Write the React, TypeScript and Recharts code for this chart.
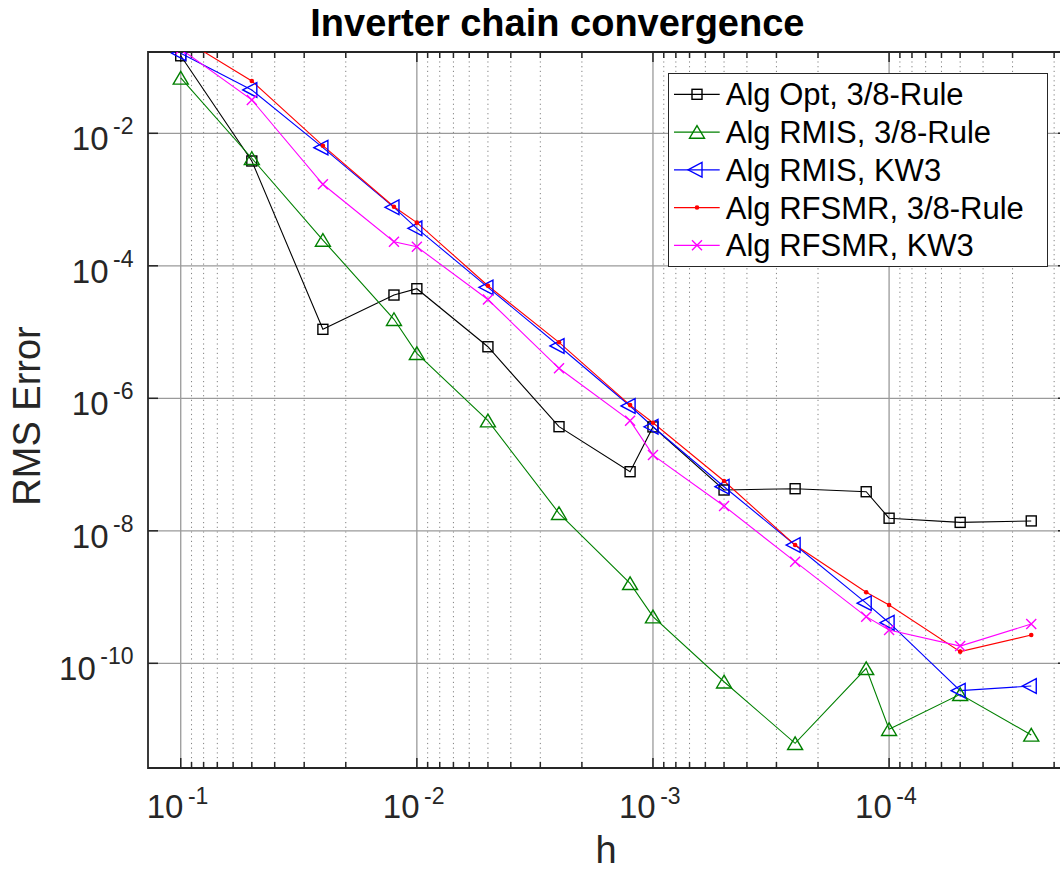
import React from 'react';
import { LineChart, Line, XAxis, YAxis, ReferenceLine, ReferenceArea, Legend } from 'recharts';

const FONT = '"Liberation Sans", Arial, Helvetica, sans-serif';
const INK = '#262626';

// step size h (x axis is reversed)
const H = [0.1, 0.05, 0.025, 0.0125, 0.01, 0.005, 0.0025, 0.00125, 0.001, 0.0005, 0.00025, 0.000125, 0.0001, 0.00005, 0.000025];

// RMS error per algorithm
const OPT_38 = [0.148, 3.82e-3, 1.1e-5, 3.62e-5, 4.51e-5, 6.0e-6, 3.73e-7, 7.8e-8, 3.7e-7, 4.13e-8, 4.32e-8, 3.89e-8, 1.55e-8, 1.34e-8, 1.41e-8];
const RMIS_38 = [0.0684, 4.2e-3, 2.45e-4, 1.56e-5, 4.78e-6, 4.6e-7, 1.84e-8, 1.61e-9, 5.06e-10, 5.27e-11, 6.2e-12, 8.4e-11, 1.01e-11, 3.4e-11, 8.3e-12];
const RMIS_KW3 = [0.161, 0.0451, 6.07e-3, 7.64e-4, 3.68e-4, 4.73e-5, 6.17e-6, 7.66e-7, 3.72e-7, 4.63e-8, 6.1e-9, 8.1e-10, 4.1e-10, 3.87e-11, 4.54e-11];
const RFSMR_38 = [0.278, 0.0616, 6.5e-3, 7.8e-4, 4.48e-4, 5.0e-5, 7.0e-6, 7.9e-7, 4.28e-7, 5.65e-8, 6.1e-9, 1.18e-9, 7.6e-10, 1.5e-10, 2.67e-10];
const RFSMR_KW3 = [0.1875, 0.0319, 1.7e-3, 2.31e-4, 1.94e-4, 3.1e-5, 2.84e-6, 4.6e-7, 1.39e-7, 2.37e-8, 3.42e-9, 5.06e-10, 3.18e-10, 1.82e-10, 3.92e-10];

const X_TICKS = [1e-1, 1e-2, 1e-3, 1e-4];
const X_MINOR = [
  0.09, 0.08, 0.07, 0.06, 0.05, 0.04, 0.03, 0.02,
  0.009, 0.008, 0.007, 0.006, 0.005, 0.004, 0.003, 0.002,
  0.0009, 0.0008, 0.0007, 0.0006, 0.0005, 0.0004, 0.0003, 0.0002,
  0.00009, 0.00008, 0.00007, 0.00006, 0.00005, 0.00004, 0.00003, 0.00002,
];
const Y_TICKS = [1e-2, 1e-4, 1e-6, 1e-8, 1e-10];
const X_DOMAIN = [1.747e-5, 0.1376];
const Y_DOMAIN = [2.63e-12, 0.1687];

const SERIES = [
  { key: 'opt38', name: 'Alg Opt, 3/8-Rule', color: '#000000', marker: 'square', values: OPT_38 },
  { key: 'rmis38', name: 'Alg RMIS, 3/8-Rule', color: '#008000', marker: 'triUp', values: RMIS_38 },
  { key: 'rmisKw3', name: 'Alg RMIS, KW3', color: '#0000ff', marker: 'triLeft', values: RMIS_KW3 },
  { key: 'rfsmr38', name: 'Alg RFSMR, 3/8-Rule', color: '#ff0000', marker: 'dot', values: RFSMR_38 },
  { key: 'rfsmrKw3', name: 'Alg RFSMR, KW3', color: '#ff00ff', marker: 'cross', values: RFSMR_KW3 },
];

const data = H.map((h, i) => {
  const row: Record<string, number> = { h };
  SERIES.forEach((s) => { row[s.key] = s.values[i]; });
  return row;
});

function Marker({ shape, cx, cy, color }: { shape: string; cx: number; cy: number; color: string }) {
  if (shape === 'square') {
    return <rect x={cx - 5} y={cy - 5} width={10} height={10} fill="none" stroke={color} strokeWidth={1.4} />;
  }
  if (shape === 'triUp') {
    return <polygon points={`${cx},${cy - 6.5} ${cx - 7.5},${cy + 6.2} ${cx + 7.5},${cy + 6.2}`} fill="none" stroke={color} strokeWidth={1.4} />;
  }
  if (shape === 'triLeft') {
    return <polygon points={`${cx - 9},${cy} ${cx + 5},${cy - 7.3} ${cx + 5},${cy + 7.3}`} fill="none" stroke={color} strokeWidth={1.4} />;
  }
  if (shape === 'dot') {
    return <circle cx={cx} cy={cy} r={2.3} fill={color} />;
  }
  return <path d={`M${cx - 5},${cy - 5}L${cx + 5},${cy + 5}M${cx - 5},${cy + 5}L${cx + 5},${cy - 5}`} stroke={color} strokeWidth={1.4} fill="none" />;
}

const exponent = (v: number) => String(Math.round(Math.log10(v)));

function XTick({ x, y, payload }: any) {
  return (
    <text x={x - 34} y={y + 50} fontSize={33} fill={INK} fontFamily={FONT}>
      10<tspan dx={4.5} dy={-14} fontSize={23}>{exponent(payload.value)}</tspan>
    </text>
  );
}

function YTick({ x, y, payload }: any) {
  return (
    <text x={x - 14.5} y={y + 17} fontSize={33} fill={INK} fontFamily={FONT} textAnchor="end">
      10<tspan dx={4.5} dy={-16} fontSize={23}>{exponent(payload.value)}</tspan>
    </text>
  );
}

// vertical grid line plus inward ticks on top and bottom
function xGridShape(dotted: boolean) {
  return (p: any) => {
    const top = Math.min(p.y1, p.y2);
    const bot = Math.max(p.y1, p.y2);
    const len = dotted ? 6 : 10;
    return (
      <g>
        <line x1={p.x1} x2={p.x1} y1={top} y2={bot} stroke={dotted ? '#808080' : '#9a9a9a'} strokeWidth={dotted ? 1 : 1.3} strokeDasharray={dotted ? '1.2 3.5' : undefined} />
        <line x1={p.x1} x2={p.x1} y1={bot} y2={bot - len} stroke={INK} strokeWidth={1.5} />
        <line x1={p.x1} x2={p.x1} y1={top} y2={top + len} stroke={INK} strokeWidth={1.5} />
      </g>
    );
  };
}

function yGridShape(p: any) {
  const left = Math.min(p.x1, p.x2);
  const right = Math.max(p.x1, p.x2);
  return (
    <g>
      <line x1={left} x2={right} y1={p.y1} y2={p.y1} stroke="#9a9a9a" strokeWidth={1.3} />
      <line x1={left} x2={left + 10} y1={p.y1} y2={p.y1} stroke={INK} strokeWidth={1.5} />
      <line x1={right - 10} x2={right} y1={p.y1} y2={p.y1} stroke={INK} strokeWidth={1.5} />
    </g>
  );
}

function LegendBox() {
  return (
    <svg width={380} height={194} style={{ display: 'block' }}>
      <rect x={0.5} y={0.5} width={379} height={193} fill="#ffffff" stroke={INK} strokeWidth={1} />
      {SERIES.map((s, i) => {
        const cy = 21.3 + i * 37.75;
        return (
          <g key={s.key}>
            <line x1={6} x2={51.7} y1={cy} y2={cy} stroke={s.color} strokeWidth={1.2} />
            <Marker shape={s.marker} cx={29} cy={cy} color={s.color} />
            <text x={57.8} y={cy + 11} fontSize={31} fontFamily={FONT} fill="#000">{s.name}</text>
          </g>
        );
      })}
    </svg>
  );
}

export default function App() {
  return (
    <div style={{ position: 'absolute', left: 0, top: 0, width: 1060, height: 870, overflow: 'hidden', background: '#fff' }}>
      <LineChart width={1069} height={870} data={data} margin={{ top: 52, right: 1, bottom: 0, left: 0 }}>
        <XAxis
          dataKey="h"
          type="number"
          scale="log"
          domain={X_DOMAIN}
          allowDataOverflow
          reversed
          ticks={X_TICKS}
          interval={0}
          height={102}
          tickSize={0}
          tickMargin={0}
          axisLine={false}
          tickLine={false}
          tick={<XTick />}
          label={{
            value: 'h',
            content: (p: any) => (
              <text x={p.viewBox.x + p.viewBox.width / 2 - 2} y={863} textAnchor="middle" fontSize={38} fill={INK} fontFamily={FONT}>h</text>
            ),
          }}
        />
        <YAxis
          type="number"
          scale="log"
          domain={Y_DOMAIN}
          allowDataOverflow
          ticks={Y_TICKS}
          interval={0}
          width={148}
          tickSize={0}
          tickMargin={0}
          axisLine={false}
          tickLine={false}
          tick={<YTick />}
          label={{
            value: 'RMS Error',
            content: () => (
              <text x={40} y={416} transform="rotate(-90, 40, 416)" textAnchor="middle" fontSize={38} fill={INK} fontFamily={FONT}>RMS Error</text>
            ),
          }}
        />
        {X_MINOR.map((v) => (
          <ReferenceLine key={`mx-${v}`} x={v} shape={xGridShape(true)} zIndex={-100} />
        ))}
        {X_TICKS.map((v) => (
          <ReferenceLine key={`x-${v}`} x={v} shape={xGridShape(false)} zIndex={-100} />
        ))}
        {Y_TICKS.map((v) => (
          <ReferenceLine key={`y-${v}`} y={v} shape={yGridShape} zIndex={-100} />
        ))}
        <ReferenceArea x1={X_DOMAIN[0]} x2={X_DOMAIN[1]} y1={Y_DOMAIN[0]} y2={Y_DOMAIN[1]} fill="none" fillOpacity={0} stroke={INK} strokeWidth={1.8} zIndex={-90} />
        {SERIES.map((s) => (
          <Line
            key={s.key}
            dataKey={s.key}
            name={s.name}
            type="linear"
            stroke={s.color}
            strokeWidth={1.1}
            isAnimationActive={false}
            activeDot={false}
            dot={(p: any) => <Marker key={`${s.key}-${p.index}`} shape={s.marker} cx={p.cx} cy={p.cy} color={s.color} />}
          />
        ))}
        <Legend
          layout="vertical"
          align="center"
          verticalAlign="middle"
          wrapperStyle={{ left: 667.6, top: 72.7, width: 380, height: 194 }}
          content={() => <LegendBox />}
        />
      </LineChart>
      <svg width={1060} height={60} style={{ position: 'absolute', left: 0, top: 0, pointerEvents: 'none' }}>
        <text x={557.4} y={36} textAnchor="middle" fontSize={38} fontWeight="bold" fontFamily={FONT} fill="#000">
          Inverter chain convergence
        </text>
      </svg>
    </div>
  );
}
